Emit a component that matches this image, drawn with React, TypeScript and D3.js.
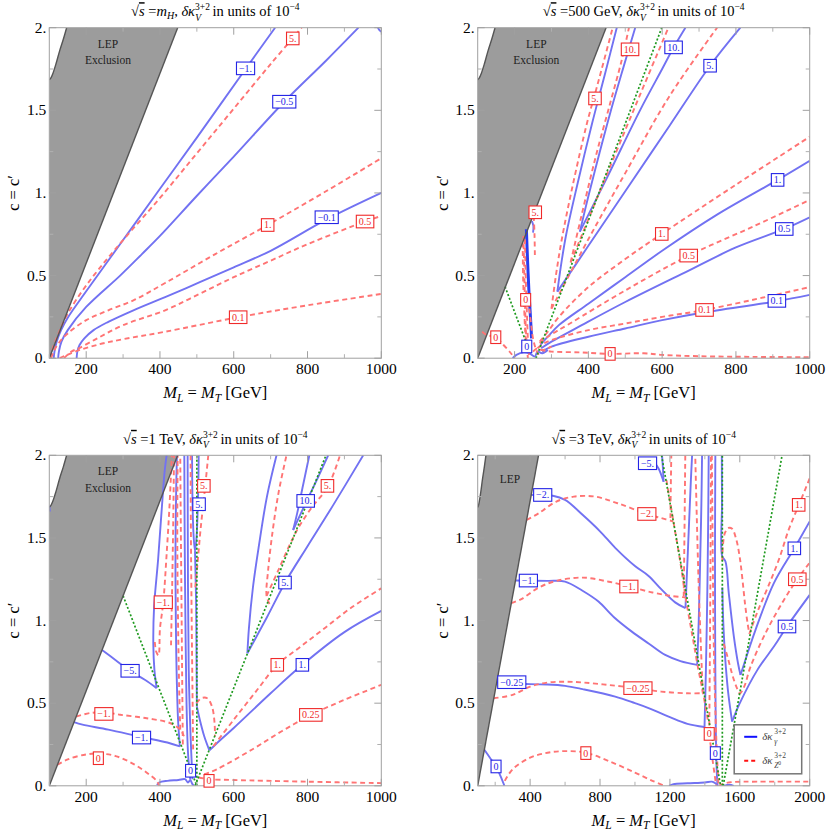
import * as d3 from 'd3';

type Pt = [number, number];
type Lbl = { t: string; x: number; y: number };

const FONT = "'Liberation Serif', 'Times New Roman', serif";
const BLUE_LINE = '#7272f2';
const RED_LINE = '#ff7474';
const GREEN_LINE = '#1f9a1f';
const BLUE_TXT = '#2424e6';
const RED_TXT = '#f02a2a';
const PW = 332;
const PH = 330.5;

// axes
const yTicks = [0, 0.5, 1, 1.5, 2];
const yTickLabels = ['0.', '0.5', '1.', '1.5', '2.'];
const yMinor = [0.25, 0.75, 1.25, 1.75];
const xTicksLow = [200, 400, 600, 800, 1000];
const xMinorLow = [100, 300, 500, 700, 900];
const xTicksHigh = [400, 800, 1200, 1600, 2000];
const xMinorHigh = [200, 600, 1000, 1400, 1800];

// LEP excluded region, same in every panel
const lepEdge: Pt[] = [[100, 0], [448, 2]];
const lepCurve: Pt[] = [[147, 2], [138, 1.93], [128, 1.86], [118, 1.78], [110, 1.725], [104, 1.695], [100, 1.685]];

// ---------- panel 1 : sqrt(s) = mH ----------
const p1BlueM1: Pt[] = [[112, 0], [114, 0.04], [120, 0.1], [132, 0.17], [150, 0.245], [200, 0.405], [300, 0.715], [400, 1.025], [500, 1.335], [632, 1.75], [712, 2.0]];
const p1BlueM05: Pt[] = [[124, 0], [126, 0.04], [133, 0.1], [150, 0.17], [200, 0.31], [292, 0.5], [351, 0.63], [400, 0.74], [499, 0.98], [600, 1.22], [737, 1.552], [850, 1.8], [938, 2.0]];
const p1BlueM01: Pt[] = [[174, 0], [176, 0.04], [182, 0.08], [195, 0.12], [220, 0.17], [260, 0.22], [328, 0.29], [414, 0.37], [508, 0.46], [600, 0.55], [700, 0.65], [852, 0.84], [1000, 1.0]];
const p1BlueCorner: Pt[] = [[991, 2.0], [995, 1.985], [1000, 1.975]];
const p1Red5: Pt[] = [[103, 0], [108, 0.05], [125, 0.15], [150, 0.27], [200, 0.44], [279, 0.66], [400, 0.97], [500, 1.24], [600, 1.51], [700, 1.78], [784, 2.0]];
const p1Red1: Pt[] = [[105, 0], [112, 0.04], [125, 0.09], [150, 0.15], [200, 0.23], [260, 0.29], [328, 0.35], [414, 0.455], [550, 0.63], [692, 0.806], [850, 1.01], [1000, 1.21]];
const p1Red05: Pt[] = [[140, 0], [160, 0.04], [180, 0.06], [230, 0.12], [300, 0.2], [414, 0.29], [508, 0.39], [600, 0.49], [700, 0.59], [800, 0.69], [956, 0.827], [1000, 0.861]];
const p1Red01: Pt[] = [[128, 0], [140, 0.012], [170, 0.04], [237, 0.085], [300, 0.115], [414, 0.16], [612, 0.248], [800, 0.32], [1000, 0.389]];
const p1BlueLabels: Lbl[] = [{ t: '−1.', x: 632, y: 1.754 }, { t: '−0.5', x: 737, y: 1.552 }, { t: '−0.1', x: 852, y: 0.853 }];
const p1RedLabels: Lbl[] = [{ t: '5.', x: 760, y: 1.935 }, { t: '1.', x: 692, y: 0.806 }, { t: '0.5', x: 956, y: 0.827 }, { t: '0.1', x: 612, y: 0.248 }];

// ---------- panel 2 : 500 GeV ----------
const p2GreenA: Pt[] = [[174, 0.433], [205, 0.25], [236, 0.07]];
const p2GreenB: Pt[] = [[258, 0], [599, 2]];
const p2Thick: Pt[] = [[232, 0.78], [235, 0.6], [239, 0.4], [243, 0.25], [246, 0.12]];
const p2BlueArc: Pt[] = [[247, 0.83], [251, 0.8], [250, 0.76]];
const p2Blue5L: Pt[] = [[316, 0.403], [325, 0.55], [340, 0.75], [370, 1.05], [410, 1.42], [445, 1.72], [477, 2.0]];
const p2Blue5R: Pt[] = [[316, 0.403], [400, 0.68], [500, 1.01], [621, 1.41], [730, 1.77], [812, 2.0]];
const p2Blue10L: Pt[] = [[377, 0.766], [400, 0.98], [430, 1.24], [460, 1.49], [495, 1.76], [527, 2.0]];
const p2Blue10R: Pt[] = [[377, 0.766], [450, 1.09], [540, 1.5], [600, 1.75], [631, 1.88], [663, 2.0]];
const p2Blue1: Pt[] = [[270, 0.08], [290, 0.13], [320, 0.2], [400, 0.33], [500, 0.49], [600, 0.65], [750, 0.87], [913, 1.079], [1000, 1.195]];
const p2Blue05: Pt[] = [[272, 0.06], [300, 0.1], [382, 0.2], [500, 0.34], [672, 0.53], [800, 0.67], [931, 0.782], [1000, 0.853]];
const p2Blue01: Pt[] = [[275, 0.04], [300, 0.07], [400, 0.13], [500, 0.18], [600, 0.23], [708, 0.275], [911, 0.345], [1000, 0.383]];
const p2BlueWig: Pt[] = [[195, 0], [205, 0.02], [225, 0.035], [240, 0.03], [255, 0.01], [262, 0.04], [275, 0.03], [290, 0.05]];
const p2Red5L: Pt[] = [[300, 0.3], [312, 0.5], [328, 0.72], [358, 1.05], [396, 1.42], [418, 1.6], [435, 1.74], [466, 2.0]];
const p2Red5R: Pt[] = [[300, 0.3], [400, 0.72], [500, 1.12], [621, 1.59], [749, 2.0]];
const p2Red10L: Pt[] = [[352, 0.58], [380, 0.85], [420, 1.22], [460, 1.55], [490, 1.8], [510, 2.0]];
const p2Red10R: Pt[] = [[352, 0.58], [420, 0.95], [500, 1.38], [560, 1.7], [617, 2.0]];
const p2Red1: Pt[] = [[268, 0.1], [290, 0.16], [320, 0.25], [400, 0.43], [500, 0.6], [599, 0.752], [800, 1.05], [1000, 1.34]];
const p2Red05: Pt[] = [[268, 0.09], [290, 0.13], [350, 0.21], [500, 0.41], [672, 0.621], [850, 0.8], [1000, 0.958]];
const p2Red01: Pt[] = [[262, 0.06], [280, 0.09], [300, 0.11], [400, 0.17], [500, 0.21], [600, 0.25], [715, 0.292], [900, 0.38], [1000, 0.43]];
const p2Red0Bot: Pt[] = [[270, 0.05], [300, 0.04], [380, 0.035], [459, 0.026], [550, 0.03], [600, 0.02], [700, 0.012], [850, 0.008], [1000, 0.006]];
const p2Red0Left: Pt[] = [[112, 0.16], [125, 0.14], [149, 0.127], [170, 0.08], [190, 0.03], [200, 0]];
const p2RedC1: Pt[] = [[224, 0.74], [226, 0.55], [228, 0.35], [231, 0.15], [236, 0]];
const p2RedC2: Pt[] = [[228, 0.72], [230, 0.5], [233, 0.3], [236, 0.12], [240, 0]];
const p2RedC3: Pt[] = [[222, 0.7], [223, 0.5], [226, 0.3], [229, 0.15], [232, 0.05]];
const p2RedS5: Pt[] = [[252, 0.86], [254, 0.75], [255, 0.62]];
const p2RedW1: Pt[] = [[240, 0.3], [245, 0.2], [250, 0.12], [257, 0.06], [265, 0.02]];
const p2RedW2: Pt[] = [[250, 0.04], [262, 0.06], [275, 0.05], [290, 0.06], [300, 0.07]];
const p2BlueLabels: Lbl[] = [{ t: '10.', x: 631, y: 1.881 }, { t: '5.', x: 730, y: 1.77 }, { t: '1.', x: 913, y: 1.079 }, { t: '0.5', x: 931, y: 0.782 }, { t: '0.1', x: 911, y: 0.347 }, { t: '0', x: 233, y: 0.071 }];
const p2RedLabels: Lbl[] = [{ t: '10.', x: 513, y: 1.869 }, { t: '5.', x: 418, y: 1.572 }, { t: '5.', x: 256, y: 0.883 }, { t: '1.', x: 599, y: 0.752 }, { t: '0.5', x: 672, y: 0.621 }, { t: '0.1', x: 715, y: 0.292 }, { t: '0', x: 230, y: 0.353 }, { t: '0', x: 149, y: 0.127 }, { t: '0', x: 459, y: 0.026 }];

// ---------- panel 3 : 1 TeV ----------
const p3GreenA: Pt[] = [[300, 1.15], [500, 0]];
const p3GreenB: Pt[] = [[500, 0], [500, 2]];
const p3GreenC: Pt[] = [[495, 0], [850, 2]];
const p3BlueM5a: Pt[] = [[243, 0.822], [280, 0.76], [319, 0.695], [360, 0.64], [391, 0.591]];
const p3BlueM5b: Pt[] = [[391, 0.591], [385, 0.7], [382, 0.85], [384, 1.08], [395, 1.37], [404, 1.65], [413, 1.91], [418, 2.0]];
const p3BlueM1a: Pt[] = [[167, 0.385], [190, 0.37], [260, 0.34], [350, 0.295], [420, 0.262], [454, 0.238]];
const p3BlueM1b: Pt[] = [[454, 0.238], [449, 0.4], [445, 0.7], [443, 1.0], [442, 1.4], [444, 1.8], [446, 2.0]];
const p3Blue0v1: Pt[] = [[482, 0.04], [476, 0.2], [472, 0.5], [469, 1.0], [467, 1.5], [466, 2.0]];
const p3Blue0v2: Pt[] = [[488, 0.04], [483, 0.3], [478, 0.7], [476, 1.2], [475, 2.0]];
const p3Blue0Bot: Pt[] = [[392, 0.005], [398, 0.02], [420, 0.03], [450, 0.035], [468, 0.04], [476, 0.02], [482, 0.035], [488, 0.01], [492, 0]];
const p3Blue5Loop: Pt[] = [[487, 2.0], [488, 1.75], [491, 1.52], [495, 1.42], [499, 1.5], [503, 1.72], [505, 2.0]];
const p3BlueVert: Pt[] = [[495, 1.42], [498, 1.1], [499, 0.8], [500, 0.48]];
const p3Blue1a: Pt[] = [[500, 0.48], [508, 0.4], [520, 0.3], [534, 0.214]];
const p3Blue1b: Pt[] = [[534, 0.214], [560, 0.27], [600, 0.35], [700, 0.56], [786, 0.732], [900, 0.93], [1000, 1.058]];
const p3Blue5L: Pt[] = [[637, 0.802], [641, 0.95], [652, 1.2], [668, 1.45], [690, 1.75], [716, 2.0]];
const p3Blue5R: Pt[] = [[637, 0.802], [690, 1.02], [739, 1.229], [800, 1.45], [870, 1.7], [951, 2.0]];
const p3Blue10L: Pt[] = [[761, 1.548], [772, 1.65], [788, 1.82], [805, 2.0]];
const p3Blue10R: Pt[] = [[761, 1.548], [795, 1.711], [825, 1.85], [856, 2.0]];
const p3BlueEdge: Pt[] = [[100, 1.695], [101.5, 1.66]];
const p3Red0a: Pt[] = [[122, 0.127], [150, 0.16], [200, 0.19], [237, 0.195], [280, 0.18], [330, 0.13], [370, 0.07], [391, 0.03], [398, 0]];
const p3Red0b: Pt[] = [[505, 0.05], [533, 0.04], [600, 0.035], [800, 0.025], [1000, 0.016]];
const p3RedM1a: Pt[] = [[173, 0.419], [210, 0.44], [248, 0.445], [292, 0.43], [360, 0.41], [427, 0.38], [455, 0.34], [465, 0.3]];
const p3RedM1b: Pt[] = [[386, 0.87], [390, 0.81], [396, 0.79], [400, 0.95], [409, 1.111], [418, 1.4], [426, 1.7], [432, 2.0]];
const p3RedV1: Pt[] = [[455, 0.34], [452, 0.6], [449, 1.0], [447, 1.5], [448, 2.0]];
const p3RedV2: Pt[] = [[462, 0.25], [460, 0.7], [458, 1.2], [456, 1.7], [455, 2.0]];
const p3RedV3: Pt[] = [[430, 0.85], [433, 1.2], [436, 1.6], [438, 2.0]];
const p3RedV4: Pt[] = [[483, 2.0], [484, 1.5], [486, 1.0], [488, 0.6], [490, 0.2]];
const p3Red5Top: Pt[] = [[531, 2.0], [522, 1.8], [510, 1.55], [502, 1.35], [496, 1.2]];
const p3RedHook: Pt[] = [[499, 0.5], [512, 0.53], [528, 0.53], [541, 0.48], [548, 0.38], [549, 0.3]];
const p3Red1: Pt[] = [[545, 0.24], [600, 0.4], [660, 0.57], [718, 0.732], [780, 0.84], [850, 0.96], [920, 1.08], [1000, 1.195]];
const p3Red025: Pt[] = [[520, 0.07], [554, 0.1], [650, 0.22], [730, 0.33], [809, 0.429], [900, 0.52], [1000, 0.611]];
const p3Red5Up: Pt[] = [[697, 1.1], [689, 1.15], [693, 1.3], [706, 1.55], [722, 1.78], [743, 2.0]];
const p3Red5R: Pt[] = [[689, 1.15], [720, 1.3], [750, 1.45], [775, 1.56], [810, 1.68], [855, 1.81], [888, 2.0]];
const p3BlueLabels: Lbl[] = [{ t: '5.', x: 506, y: 1.704 }, { t: '10.', x: 795, y: 1.724 }, { t: '5.', x: 739, y: 1.23 }, { t: '−5.', x: 319, y: 0.696 }, { t: '1.', x: 786, y: 0.732 }, { t: '−1.', x: 350, y: 0.292 }, { t: '0', x: 483, y: 0.091 }];
const p3RedLabels: Lbl[] = [{ t: '5.', x: 519, y: 1.815 }, { t: '5.', x: 854, y: 1.815 }, { t: '−1.', x: 409, y: 1.111 }, { t: '1.', x: 718, y: 0.732 }, { t: '−1.', x: 248, y: 0.435 }, { t: '0.25', x: 809, y: 0.429 }, { t: '0', x: 233, y: 0.167 }, { t: '0', x: 533, y: 0.03 }];

// ---------- panel 4 : 3 TeV ----------
const p4GreenA: Pt[] = [[1152, 2.0], [1490, 0]];
const p4GreenB: Pt[] = [[1500, 0], [1500, 2]];
const p4GreenC: Pt[] = [[1505, 0], [1842, 2]];
const p4BlueM5: Pt[] = [[1108, 1.96], [1135, 1.92], [1164, 1.84]];
const p4BlueM5Up: Pt[] = [[1164, 1.84], [1160, 1.92], [1155, 2.0]];
const p4BlueM2: Pt[] = [[406, 1.76], [530, 1.755], [600, 1.73], [700, 1.64], [800, 1.54], [887, 1.44], [1000, 1.33], [1078, 1.27], [1150, 1.19], [1230, 1.11], [1289, 1.075]];
const p4BlueV1: Pt[] = [[1289, 1.075], [1298, 1.3], [1310, 1.6], [1320, 1.85], [1327, 2.0]];
const p4BlueM1: Pt[] = [[316, 1.242], [500, 1.24], [600, 1.236], [700, 1.18], [791, 1.115], [880, 1.02], [982, 0.933], [1080, 0.86], [1173, 0.792], [1260, 0.755], [1356, 0.732]];
const p4BlueV2: Pt[] = [[1356, 0.732], [1365, 1.0], [1374, 1.4], [1380, 1.7], [1384, 2.0]];
const p4BlueM025: Pt[] = [[209, 0.627], [400, 0.615], [500, 0.613], [600, 0.605], [700, 0.585], [887, 0.54], [1000, 0.5], [1078, 0.47], [1200, 0.415], [1300, 0.375], [1398, 0.356]];
const p4BlueV3: Pt[] = [[1398, 0.356], [1406, 0.7], [1413, 1.1], [1418, 1.5], [1422, 2.0]];
const p4Blue0v: Pt[] = [[1472, 0], [1466, 0.15], [1462, 0.4], [1459, 0.9], [1458, 1.4], [1460, 2.0]];
const p4Blue0Bot: Pt[] = [[1195, 0], [1220, 0.01], [1300, 0.015], [1400, 0.02], [1440, 0.025], [1460, 0.015], [1475, 0]];
const p4Blue0Bot2: Pt[] = [[1510, 0], [1540, 0.006], [1565, 0]];
const p4Blue0Left: Pt[] = [[138, 0.218], [170, 0.17], [205, 0.117], [230, 0.06], [253, 0]];
const p4Blue1L: Pt[] = [[1497, 2.0], [1498, 1.7], [1499, 1.39], [1518, 1.357], [1537, 1.165], [1566, 0.903], [1590, 0.74], [1604, 0.67]];
const p4Blue1R: Pt[] = [[1604, 0.67], [1650, 0.82], [1690, 0.944], [1795, 1.226], [1912, 1.437], [2000, 1.6]];
const p4Blue05L: Pt[] = [[1500, 1.2], [1505, 1.0], [1512, 0.85], [1520, 0.72], [1535, 0.55], [1556, 0.389]];
const p4Blue05R: Pt[] = [[1556, 0.389], [1600, 0.5], [1700, 0.7], [1800, 0.85], [1870, 0.964], [2000, 1.155]];
const p4Red0Left: Pt[] = [[255, 0.03], [300, 0.1], [400, 0.17], [500, 0.2], [600, 0.21], [719, 0.2], [850, 0.15], [1000, 0.08], [1100, 0.03], [1170, 0]];
const p4RedM025: Pt[] = [[192, 0.53], [300, 0.55], [400, 0.6], [500, 0.625], [600, 0.63], [700, 0.625], [850, 0.61], [1017, 0.59], [1150, 0.57], [1300, 0.56], [1390, 0.56]];
const p4RedM1: Pt[] = [[292, 1.105], [350, 1.13], [450, 1.2], [550, 1.24], [700, 1.26], [850, 1.235], [965, 1.206], [1100, 1.17], [1200, 1.15], [1290, 1.14]];
const p4RedM2: Pt[] = [[380, 1.609], [450, 1.65], [550, 1.72], [650, 1.75], [772, 1.75], [900, 1.71], [1068, 1.645], [1150, 1.62], [1220, 1.6]];
const p4RedAlong: Pt[] = [[1180, 1.85], [1220, 1.6], [1260, 1.35], [1290, 1.14], [1330, 0.9], [1360, 0.72], [1390, 0.56], [1420, 0.38]];
const p4RedV1: Pt[] = [[1203, 1.62], [1205, 1.8], [1208, 2.0]];
const p4RedV2: Pt[] = [[1279, 1.145], [1283, 1.5], [1288, 2.0]];
const p4RedV3: Pt[] = [[1388, 0.56], [1365, 1.2], [1345, 2.0]];
const p4RedV4: Pt[] = [[1425, 0.314], [1428, 0.7], [1432, 1.3], [1435, 2.0]];
const p4RedV5: Pt[] = [[1440, 2.0], [1445, 1.4], [1452, 0.8], [1465, 0.3], [1478, 0]];
const p4Red0Low: Pt[] = [[1425, 0.314], [1445, 0.15], [1465, 0]];
const p4Red0Right: Pt[] = [[1480, 0], [1500, 0.01], [1550, 0.022], [1700, 0.025], [2000, 0.025]];
const p4Red1Hump: Pt[] = [[1500, 1.36], [1503, 1.45], [1515, 1.53], [1535, 1.56], [1556, 1.555], [1580, 1.49], [1600, 1.38], [1615, 1.25], [1630, 1.1], [1645, 0.98], [1655, 0.92]];
const p4Red1R: Pt[] = [[1655, 0.92], [1700, 1.05], [1760, 1.2], [1824, 1.37], [1880, 1.55], [1938, 1.7], [2000, 1.86]];
const p4Red05: Pt[] = [[1508, 0.86], [1530, 0.78], [1555, 0.68], [1580, 0.6], [1600, 0.56], [1625, 0.6], [1661, 0.72], [1750, 0.93], [1850, 1.12], [1929, 1.25], [2000, 1.35]];
const p4BlueLabels: Lbl[] = [{ t: '−5.', x: 1072, y: 1.952 }, { t: '−2.', x: 472, y: 1.76 }, { t: '1.', x: 1912, y: 1.437 }, { t: '−1.', x: 390, y: 1.242 }, { t: '0.5', x: 1870, y: 0.964 }, { t: '−0.25', x: 295, y: 0.627 }, { t: '0', x: 1460, y: 0.198 }, { t: '0', x: 205, y: 0.117 }];
const p4RedLabels: Lbl[] = [{ t: '−2.', x: 1068, y: 1.645 }, { t: '1.', x: 1937, y: 1.7 }, { t: '0.5', x: 1929, y: 1.25 }, { t: '−1.', x: 965, y: 1.206 }, { t: '−0.25', x: 1017, y: 0.591 }, { t: '0', x: 1425, y: 0.314 }, { t: '0', x: 719, y: 0.198 }];

const charW = (c: string) => (c === '.' ? 0.25 : c === '−' ? 0.564 : 0.5);
const labelWidth = (t: string) => t.split('').reduce((s, c) => s + charW(c), 0) * 10 + 5;

type PanelProps = {
  id: string;
  left: number;
  top: number;
  xDomain: [number, number];
  xTicks: number[];
  xMinor: number[];
  energy: string | null;
  blue: Pt[][];
  red: Pt[][];
  green: Pt[][];
  thick?: Pt[][];
  blueLabels: Lbl[];
  redLabels: Lbl[];
  lepText: { x: number; y: number; full: boolean };
  legend?: boolean;
};

function Title({ energy }: { energy: string | null }) {
  return (
    <text x={PW / 2} y={-11.5} textAnchor="middle" fontSize={14.5}>
      <tspan>√</tspan>
      <tspan fontStyle="italic" style={{ textDecoration: 'overline' }}>s</tspan>
      <tspan> =</tspan>
      {energy === null ? (
        <>
          <tspan fontStyle="italic">m</tspan>
          <tspan fontStyle="italic" fontSize={10} dy={3}>H</tspan>
          <tspan dy={-3}>, </tspan>
        </>
      ) : (
        <tspan>{energy}, </tspan>
      )}
      <tspan fontStyle="italic">δκ</tspan>
      <tspan fontSize={9.5} dy={-6}>3+2</tspan>
      <tspan fontSize={9.5} fontStyle="italic" dx={-14.8} dy={10.5}>V</tspan>
      <tspan dx={8.0} dy={-4.5}> in units of 10</tspan>
      <tspan fontSize={9.5} dy={-6}>−4</tspan>
    </text>
  );
}

function Panel(p: PanelProps) {
  const x = d3.scaleLinear().domain(p.xDomain).range([0, PW]);
  const y = d3.scaleLinear().domain([0, 2]).range([PH, 0]);
  const smooth = d3.line<Pt>().x((d) => x(d[0])).y((d) => y(d[1])).curve(d3.curveCatmullRom.alpha(0.5));
  const straight = d3.line<Pt>().x((d) => x(d[0])).y((d) => y(d[1]));
  const region = straight([...lepEdge, ...lepCurve]) + 'Z';

  const box = (l: Lbl, col: string, k: string) => {
    const w = labelWidth(l.t);
    const cx = x(l.x);
    const cy = y(l.y);
    return (
      <g key={k}>
        <rect x={cx - w / 2} y={cy - 6.3} width={w} height={12.6} fill="#fff" stroke={col} strokeWidth={1.1} />
        <text x={cx} y={cy + 3.5} textAnchor="middle" fontSize={10} fill={col}>{l.t}</text>
      </g>
    );
  };

  return (
    <g transform={`translate(${p.left},${p.top})`}>
      <defs>
        <clipPath id={`clip-${p.id}`}>
          <rect x={0} y={0} width={PW} height={PH} />
        </clipPath>
      </defs>
      <Title energy={p.energy} />
      <g clipPath={`url(#clip-${p.id})`}>
        <path d={region} fill="#9c9c9c" />
        {p.blue.map((c, i) => (
          <path key={`b${i}`} d={smooth(c) ?? ''} fill="none" stroke={BLUE_LINE} strokeWidth={1.9} />
        ))}
        {(p.thick ?? []).map((c, i) => (
          <path key={`t${i}`} d={smooth(c) ?? ''} fill="none" stroke="#2b3cf0" strokeWidth={3} />
        ))}
        {p.red.map((c, i) => (
          <path key={`r${i}`} d={smooth(c) ?? ''} fill="none" stroke={RED_LINE} strokeWidth={1.9} strokeDasharray="5,3.5" />
        ))}
        {p.green.map((c, i) => (
          <path key={`g${i}`} d={straight(c) ?? ''} fill="none" stroke={GREEN_LINE} strokeWidth={1.7} strokeDasharray="2,2" />
        ))}
        <path d={straight(lepEdge) ?? ''} fill="none" stroke="#555" strokeWidth={1.4} />
        <path d={smooth(lepCurve) ?? ''} fill="none" stroke="#555" strokeWidth={1.4} />
      </g>
      <rect x={0} y={0} width={PW} height={PH} fill="none" stroke="#a0a0a0" strokeWidth={1} />
      {p.xTicks.map((t) => (
        <g key={`xt${t}`}>
          <line x1={x(t)} x2={x(t)} y1={PH} y2={PH - 7} stroke="#a0a0a0" />
          <line x1={x(t)} x2={x(t)} y1={0} y2={7} stroke="#a0a0a0" />
          <text x={x(t)} y={PH + 16} textAnchor="middle" fontSize={15.5}>{t}</text>
        </g>
      ))}
      {p.xMinor.map((t) => (
        <g key={`xm${t}`}>
          <line x1={x(t)} x2={x(t)} y1={PH} y2={PH - 4} stroke="#b0b0b0" />
          <line x1={x(t)} x2={x(t)} y1={0} y2={4} stroke="#b0b0b0" />
        </g>
      ))}
      {yTicks.map((t, i) => (
        <g key={`yt${t}`}>
          <line x1={0} x2={7} y1={y(t)} y2={y(t)} stroke="#a0a0a0" />
          <line x1={PW} x2={PW - 7} y1={y(t)} y2={y(t)} stroke="#a0a0a0" />
          <text x={-3} y={y(t) + 5} textAnchor="end" fontSize={15.5}>{yTickLabels[i]}</text>
        </g>
      ))}
      {yMinor.map((t) => (
        <g key={`ym${t}`}>
          <line x1={0} x2={4} y1={y(t)} y2={y(t)} stroke="#b0b0b0" />
          <line x1={PW} x2={PW - 4} y1={y(t)} y2={y(t)} stroke="#b0b0b0" />
        </g>
      ))}
      <text x={PW / 2} y={PH + 40} textAnchor="middle" fontSize={16.5}>
        <tspan fontStyle="italic">M</tspan>
        <tspan fontStyle="italic" fontSize={11.5} dy={3.5}>L</tspan>
        <tspan dy={-3.5}> = </tspan>
        <tspan fontStyle="italic">M</tspan>
        <tspan fontStyle="italic" fontSize={11.5} dy={3.5}>T</tspan>
        <tspan dy={-3.5}> [GeV]</tspan>
      </text>
      <text transform={`translate(-30,${PH / 2}) rotate(-90)`} textAnchor="middle" fontSize={16.5}>c = c′</text>
      <text x={x(p.lepText.x)} y={y(p.lepText.y)} textAnchor="middle" fontSize={11.5} fill="#222">LEP</text>
      {p.lepText.full && (
        <text x={x(p.lepText.x)} y={y(p.lepText.y - 0.1)} textAnchor="middle" fontSize={11.5} fill="#222">Exclusion</text>
      )}
      {p.blueLabels.map((l, i) => box(l, BLUE_TXT, `bl${i}`))}
      {p.redLabels.map((l, i) => box(l, RED_TXT, `rl${i}`))}
      {p.legend && (
        <g transform="translate(256.5,269.5)">
          <rect x={0} y={0} width={67.5} height={49} fill="#fff" stroke="#777" strokeWidth={1.5} />
          <line x1={10} x2={23} y1={12} y2={12} stroke="#1010ff" strokeWidth={2} />
          <text x={28} y={15} fontSize={11} fill="#444" fontStyle="italic">δκ</text>
          <text x={40} y={9.5} fontSize={7.5} fill="#444">3+2</text>
          <text x={40} y={19} fontSize={7.5} fill="#444" fontStyle="italic">γ</text>
          <line x1={10} x2={23} y1={36} y2={36} stroke="#ff1010" strokeWidth={2} strokeDasharray="4,3" />
          <text x={28} y={39} fontSize={11} fill="#444" fontStyle="italic">δκ</text>
          <text x={40} y={33.5} fontSize={7.5} fill="#444">3+2</text>
          <text x={40} y={43} fontSize={7.5} fill="#444">
            <tspan fontStyle="italic">Z</tspan>
            <tspan fontSize={5.5} dy={-2.5}>0</tspan>
          </text>
        </g>
      )}
    </g>
  );
}

export default function App() {
  return (
    <svg
      width={830}
      height={830}
      viewBox="0 0 830 830"
      style={{ position: 'absolute', left: 0, top: 0, background: '#fff' }}
      fontFamily={FONT}
    >
      <rect width={830} height={830} fill="#fff" />
      <Panel
        id="p1"
        left={49.3}
        top={27.7}
        xDomain={[100, 1000]}
        xTicks={xTicksLow}
        xMinor={xMinorLow}
        energy={null}
        blue={[p1BlueM1, p1BlueM05, p1BlueM01, p1BlueCorner]}
        red={[p1Red5, p1Red1, p1Red05, p1Red01]}
        green={[]}
        blueLabels={p1BlueLabels}
        redLabels={p1RedLabels}
        lepText={{ x: 259, y: 1.88, full: true }}
      />
      <Panel
        id="p2"
        left={477.7}
        top={27.7}
        xDomain={[100, 1000]}
        xTicks={xTicksLow}
        xMinor={xMinorLow}
        energy="500 GeV"
        blue={[p2BlueArc, p2Blue5L, p2Blue5R, p2Blue10L, p2Blue10R, p2Blue1, p2Blue05, p2Blue01, p2BlueWig]}
        thick={[p2Thick]}
        red={[p2Red5L, p2Red5R, p2Red10L, p2Red10R, p2Red1, p2Red05, p2Red01, p2Red0Bot, p2Red0Left, p2RedC1, p2RedC2, p2RedC3, p2RedS5, p2RedW1, p2RedW2]}
        green={[p2GreenA, p2GreenB]}
        blueLabels={p2BlueLabels}
        redLabels={p2RedLabels}
        lepText={{ x: 259, y: 1.88, full: true }}
      />
      <Panel
        id="p3"
        left={49.3}
        top={455.3}
        xDomain={[100, 1000]}
        xTicks={xTicksLow}
        xMinor={xMinorLow}
        energy="1 TeV"
        blue={[p3BlueM5a, p3BlueM5b, p3BlueM1a, p3BlueM1b, p3Blue0v1, p3Blue0v2, p3Blue0Bot, p3Blue5Loop, p3BlueVert, p3Blue1a, p3Blue1b, p3Blue5L, p3Blue5R, p3Blue10L, p3Blue10R, p3BlueEdge]}
        red={[p3Red0a, p3Red0b, p3RedM1a, p3RedM1b, p3RedV1, p3RedV2, p3RedV3, p3RedV4, p3Red5Top, p3RedHook, p3Red1, p3Red025, p3Red5Up, p3Red5R]}
        green={[p3GreenA, p3GreenB, p3GreenC]}
        blueLabels={p3BlueLabels}
        redLabels={p3RedLabels}
        lepText={{ x: 259, y: 1.88, full: true }}
      />
      <Panel
        id="p4"
        left={477.7}
        top={455.3}
        xDomain={[100, 2000]}
        xTicks={xTicksHigh}
        xMinor={xMinorHigh}
        energy="3 TeV"
        blue={[p4BlueM5, p4BlueM5Up, p4BlueM2, p4BlueV1, p4BlueM1, p4BlueV2, p4BlueM025, p4BlueV3, p4Blue0v, p4Blue0Bot, p4Blue0Bot2, p4Blue0Left, p4Blue1L, p4Blue1R, p4Blue05L, p4Blue05R]}
        red={[p4Red0Left, p4RedM025, p4RedM1, p4RedM2, p4RedAlong, p4RedV1, p4RedV2, p4RedV3, p4RedV4, p4RedV5, p4Red0Low, p4Red0Right, p4Red1Hump, p4Red1R, p4Red05]}
        green={[p4GreenA, p4GreenB, p4GreenC]}
        blueLabels={p4BlueLabels}
        redLabels={p4RedLabels}
        lepText={{ x: 285, y: 1.83, full: false }}
        legend
      />
    </svg>
  );
}
